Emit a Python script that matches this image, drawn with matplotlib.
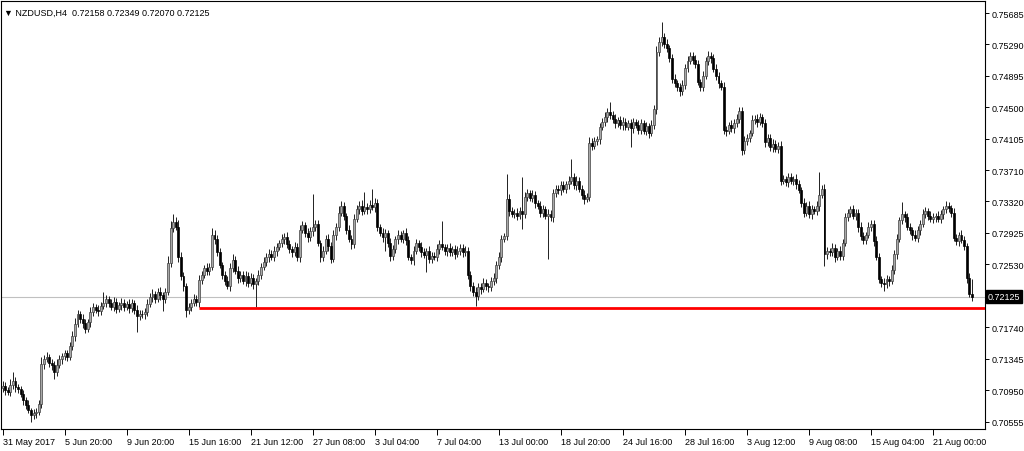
import matplotlib
matplotlib.use("Agg")
import matplotlib.pyplot as plt
import matplotlib.transforms as mtransforms
import numpy as np

plt.rcParams['font.family'] = ['Liberation Sans', 'DejaVu Sans']

# NZDUSD H4 - closes (one value per bar)
first_open = 0.7098
close = [
    0.7100,0.7095,0.7093,0.7101,0.7106,0.7099,0.7097,0.7090,0.7082,0.7076,0.7070,0.7064,0.7066,0.7068,0.7077,0.7128,0.7134,0.7137,0.7129,0.7126,0.7118,0.7127,0.7134,0.7138,
    0.7141,0.7137,0.7150,0.7163,0.7178,0.7190,0.7184,0.7179,0.7172,0.7180,0.7193,0.7199,0.7196,0.7194,0.7201,0.7205,0.7209,0.7204,0.7200,0.7206,0.7197,0.7202,0.7205,0.7199,
    0.7203,0.7198,0.7204,0.7196,0.7188,0.7191,0.7190,0.7193,0.7203,0.7212,0.7216,0.7210,0.7218,0.7214,0.7210,0.7218,0.7255,0.7298,0.7306,0.7300,0.7262,0.7238,0.7226,0.7196,
    0.7200,0.7205,0.7210,0.7206,0.7233,0.7240,0.7248,0.7245,0.7250,0.7290,0.7285,0.7268,0.7252,0.7240,0.7232,0.7226,0.7248,0.7258,0.7245,0.7236,0.7240,0.7232,0.7238,0.7230,
    0.7236,0.7228,0.7232,0.7240,0.7250,0.7256,0.7262,0.7266,0.7262,0.7270,0.7275,0.7280,0.7285,0.7287,0.7278,0.7272,0.7268,0.7275,0.7262,0.7296,0.7302,0.7292,0.7287,0.7295,
    0.7300,0.7303,0.7280,0.7262,0.7270,0.7285,0.7276,0.7260,0.7290,0.7300,0.7318,0.7326,0.7314,0.7296,0.7285,0.7278,0.7310,0.7322,0.7326,0.7320,0.7325,0.7322,0.7328,0.7325,
    0.7330,0.7300,0.7292,0.7287,0.7292,0.7280,0.7263,0.7272,0.7285,0.7290,0.7285,0.7292,0.7283,0.7262,0.7258,0.7270,0.7280,0.7275,0.7268,0.7265,0.7270,0.7260,0.7264,0.7262,
    0.7272,0.7278,0.7275,0.7270,0.7274,0.7268,0.7272,0.7266,0.7270,0.7274,0.7268,0.7270,0.7240,0.7226,0.7218,0.7213,0.7225,0.7222,0.7230,0.7226,0.7224,0.7232,0.7236,0.7252,
    0.7262,0.7285,0.7288,0.7335,0.7320,0.7316,0.7318,0.7314,0.7320,0.7316,0.7338,0.7342,0.7336,0.7340,0.7330,0.7326,0.7318,0.7322,0.7314,0.7316,0.7312,0.7342,0.7348,0.7346,
    0.7352,0.7348,0.7354,0.7358,0.7362,0.7352,0.7358,0.7348,0.7340,0.7335,0.7338,0.7405,0.7402,0.7408,0.7410,0.7425,0.7432,0.7438,0.7444,0.7440,0.7436,0.7430,0.7434,0.7428,
    0.7432,0.7426,0.7430,0.7424,0.7432,0.7428,0.7422,0.7430,0.7420,0.7426,0.7418,0.7428,0.7448,0.7519,0.7532,0.7538,0.7530,0.7524,0.7512,0.7486,0.7480,0.7476,0.7470,0.7478,
    0.7500,0.7508,0.7515,0.7510,0.7505,0.7482,0.7476,0.7490,0.7508,0.7515,0.7512,0.7498,0.7490,0.7480,0.7476,0.7422,0.7420,0.7428,0.7424,0.7430,0.7436,0.7446,0.7396,0.7408,
    0.7412,0.7418,0.7434,0.7436,0.7432,0.7438,0.7430,0.7406,0.7412,0.7400,0.7404,0.7398,0.7402,0.7358,0.7360,0.7356,0.7362,0.7358,0.7360,0.7354,0.7346,0.7330,0.7318,0.7326,
    0.7316,0.7322,0.7320,0.7326,0.7340,0.7348,0.7266,0.7270,0.7268,0.7274,0.7262,0.7270,0.7264,0.7280,0.7312,0.7318,0.7322,0.7314,0.7318,0.7300,0.7288,0.7284,0.7290,0.7300,
    0.7304,0.7282,0.7262,0.7234,0.7230,0.7228,0.7234,0.7232,0.7246,0.7266,0.7285,0.7308,0.7316,0.7312,0.7300,0.7296,0.7290,0.7286,0.7296,0.7304,0.7316,0.7320,0.7314,0.7310,
    0.7312,0.7314,0.7310,0.7316,0.7322,0.7326,0.7324,0.7318,0.7286,0.7282,0.7290,0.7284,0.7276,0.7236,0.72158,0.72125,
]

# wick lengths in pips above / below the body
wick_up = [
    6,5,4,8,12,5,4,3,5,4,6,3,5,4,6,8,5,6,4,5,6,7,5,4,
    5,4,6,6,8,5,4,6,5,4,6,5,4,6,5,13,6,4,5,6,5,4,6,5,
    4,6,5,4,6,5,4,5,6,5,6,4,5,6,4,5,8,9,10,6,8,6,5,4,
    5,4,6,5,6,5,4,6,5,8,6,5,6,4,5,6,6,8,5,6,4,5,6,5,
    6,5,4,6,5,6,5,6,5,6,5,4,6,5,6,5,4,6,5,6,5,4,6,5,
    41,5,6,4,6,5,6,5,6,5,8,6,5,4,6,5,6,5,6,8,19,5,6,19,
    6,5,4,6,5,4,6,5,4,6,5,4,6,5,4,6,5,4,6,5,4,6,5,4,
    6,5,29,4,5,6,4,5,6,4,5,6,5,4,5,6,5,4,6,5,4,5,6,5,
    6,5,4,31,6,5,4,6,5,42,6,5,4,6,5,4,6,5,4,6,5,6,5,4,
    6,5,4,6,23,5,6,4,5,6,4,8,6,5,4,6,5,6,5,13,5,6,4,5,
    6,5,4,6,5,4,6,5,4,6,5,6,5,8,6,19,5,6,4,5,6,5,4,6,
    5,6,5,4,6,5,4,6,5,6,4,5,6,5,4,6,5,4,6,5,6,5,4,6,
    5,4,6,5,6,5,4,6,5,4,6,5,4,6,5,4,6,5,4,6,5,4,6,5,
    6,5,4,6,29,5,6,5,4,6,5,4,6,5,6,5,4,6,5,4,6,5,4,6,
    5,4,6,5,4,6,5,4,6,5,6,5,15,4,6,5,4,6,5,4,6,5,4,6,
    5,4,6,5,4,6,5,4,6,5,4,6,5,4,6,19.1,
]
wick_dn = [
    5,6,4,5,4,6,5,4,6,5,4,9,5,6,4,5,6,4,5,6,9,5,4,6,
    5,6,4,5,6,4,5,6,5,4,6,5,4,6,5,4,6,5,4,6,5,4,6,5,
    4,6,5,6,20,5,4,6,5,4,6,5,4,6,16,5,4,6,5,4,6,5,6,9,
    5,6,4,5,6,5,4,6,5,4,6,5,4,6,5,4,6,5,4,6,5,4,6,5,
    4,6,29,5,6,4,5,6,4,5,6,4,5,6,4,5,6,4,5,6,4,5,6,5,
    6,5,4,6,5,4,6,5,4,6,5,4,6,5,4,6,5,4,6,5,4,6,5,4,
    6,5,4,6,17,5,6,4,5,6,4,5,6,4,5,6,4,5,6,4,22,5,6,4,
    5,6,4,5,6,4,5,6,4,5,6,4,5,6,5,12,5,6,4,5,6,4,5,6,
    5,6,4,5,6,4,5,6,4,19,5,6,4,5,6,4,5,6,4,54,5,6,4,5,
    6,4,5,6,4,5,6,4,5,6,4,5,6,4,5,6,4,5,6,4,5,6,4,5,
    6,4,5,24,6,4,5,6,4,5,6,4,5,6,4,5,6,4,5,6,4,5,6,4,
    5,6,4,5,6,4,5,6,4,5,6,4,5,6,4,5,6,4,5,6,4,5,6,4,
    5,6,4,5,6,4,5,6,4,5,6,4,5,6,4,5,6,4,5,6,4,5,6,4,
    5,6,4,5,6,4,15,6,4,5,6,4,5,6,4,5,6,4,5,6,4,5,6,4,
    5,6,4,5,6,9,5,6,4,5,6,4,5,6,4,5,6,4,5,6,4,5,6,4,
    5,6,4,5,6,4,5,6,4,5,6,4,5,6,4,5.5,
]

time_labels = ["31 May 2017", "5 Jun 20:00", "9 Jun 20:00", "15 Jun 16:00", "21 Jun 12:00",
               "27 Jun 08:00", "3 Jul 04:00", "7 Jul 04:00", "13 Jul 00:00", "18 Jul 20:00",
               "24 Jul 16:00", "28 Jul 16:00", "3 Aug 12:00", "9 Aug 08:00", "15 Aug 04:00",
               "21 Aug 00:00"]
bars_per_label = 24
price_ticks = [0.70555, 0.70950, 0.71345, 0.71740, 0.72530, 0.72925, 0.73320,
               0.73710, 0.74105, 0.74500, 0.74895, 0.75290, 0.75685]
last_price = 0.72125
support = 0.7198
support_from = 76
header = "\u25BC NZDUSD,H4  0.72158 0.72349 0.72070 0.72125"

c = np.array(close)
o = np.concatenate([[first_open], c[:-1]])
hi = np.maximum(o, c) + np.array(wick_up) / 10000
lo = np.minimum(o, c) - np.array(wick_dn) / 10000
x = np.arange(len(c))

fig = plt.figure(figsize=(10.24, 4.52), dpi=100)
ax = fig.add_axes([0.5 / 1024, 22 / 452, 984.5 / 1024, 428 / 452])

ax.axhline(last_price, color="#c0c0c0", lw=0.8, zorder=0)

# candles: wicks, then white (grey) bull bodies and black bear bodies
ax.vlines(x, lo, hi, color="#202020", lw=0.7, zorder=2)
bull = c >= o
bear = ~bull
ax.bar(x[bull], (c - o)[bull] + 1e-6, bottom=o[bull], width=0.75,
       facecolor="#a8a8a8", edgecolor="#404040", lw=0.5, zorder=3)
ax.bar(x[bear], (o - c)[bear] + 1e-6, bottom=c[bear], width=0.75,
       facecolor="black", edgecolor="black", lw=0.5, zorder=3)

ax.set_xlim(-0.8, 380.1)
ax.set_ylim(0.704621, 0.758357)
ax.hlines(support, support_from, 380.1, color="red", lw=2, zorder=4)

for s in ax.spines.values():
    s.set_color("black")
    s.set_linewidth(0.8)
ax.yaxis.tick_right()
ax.set_yticks(price_ticks)
ax.set_yticklabels(["%.5f" % p for p in price_ticks])
ax.tick_params(axis="y", direction="out", length=3, width=0.7, labelsize=6.5, pad=2)
ax.set_xticks(np.arange(len(time_labels)) * bars_per_label)
ax.set_xticklabels(time_labels)
ax.tick_params(axis="x", direction="out", length=4, width=0.7, labelsize=6.5, pad=2)
for t in ax.get_xticklabels():
    t.set_ha("left")

trans = mtransforms.blended_transform_factory(ax.transAxes, ax.transData)
ax.text(1.003, last_price, "%.5f" % last_price, transform=trans, fontsize=6.5,
        color="white", va="center", ha="left",
        bbox=dict(boxstyle="square,pad=0.2", facecolor="black", edgecolor="black"))

ax.text(0.004, 0.985, header, transform=ax.transAxes, fontsize=6.5, va="top", ha="left")

fig.savefig("out.png", dpi=100)
